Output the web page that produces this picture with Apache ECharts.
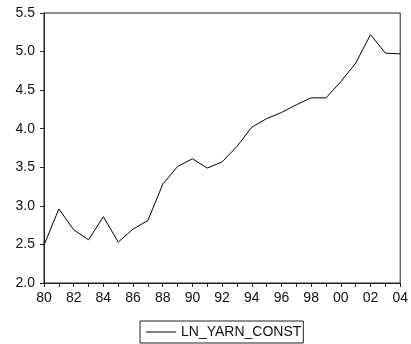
<!DOCTYPE html>
<html>
<head>
<meta charset="utf-8">
<script src="https://cdn.jsdelivr.net/npm/echarts@6/dist/echarts.min.js"></script>
<style>
  html, body { margin: 0; padding: 0; background: #fff; }
  #chart { width: 411px; height: 344px; }
</style>
</head>
<body>
<div id="chart"></div>
<script>
// Years shown on the category axis (two-digit form)
const years = ['80','81','82','83','84','85','86','87','88','89','90','91','92',
               '93','94','95','96','97','98','99','00','01','02','03','04'];
// Log of yarn output, constant prices
const lnYarnConst = [2.49, 2.96, 2.69, 2.56, 2.86, 2.53, 2.70, 2.81, 3.28, 3.51,
                     3.61, 3.49, 3.57, 3.77, 4.02, 4.13, 4.21, 4.31, 4.40, 4.40,
                     4.61, 4.85, 5.22, 4.98, 4.97];
const seriesName = 'LN_YARN_CONST';
const yMin = 2.0, yMax = 5.5, yStep = 0.5;

const font = 'Liberation Sans, Arial, sans-serif';
const ink = '#111';

const chart = echarts.init(document.getElementById('chart'), null, { renderer: 'canvas' });
chart.setOption({
  animation: false,
  backgroundColor: '#fff',
  grid: {
    left: 44, top: 13, right: 8, bottom: 61,
    show: true, borderColor: '#222', borderWidth: 1, backgroundColor: 'transparent'
  },
  legend: {
    left: 140, top: 321,
    data: [{ name: seriesName, icon: 'rect' }],
    itemWidth: 30, itemHeight: 1, itemGap: 4,
    padding: [4, 2, 4, 6],
    borderColor: '#222', borderWidth: 1, borderRadius: 0,
    textStyle: { color: ink, fontSize: 14, fontFamily: font, padding: [0, 0, 0, 0] }
  },
  xAxis: {
    type: 'category',
    data: years,
    boundaryGap: false,
    axisLine: { lineStyle: { color: '#222', width: 1 } },
    axisTick: { show: true, interval: 0, length: 4, lineStyle: { color: '#222' } },
    axisLabel: { interval: 1, color: ink, fontSize: 14, fontFamily: font, margin: 8 },
    splitLine: { show: false }
  },
  yAxis: {
    type: 'value',
    min: yMin, max: yMax, interval: yStep,
    axisLine: { show: true, lineStyle: { color: '#222', width: 1 } },
    axisTick: { show: true, length: 4, lineStyle: { color: '#222' } },
    axisLabel: {
      color: ink, fontSize: 14, fontFamily: font, margin: 9,
      formatter: v => v.toFixed(1)
    },
    splitLine: { show: false }
  },
  series: [{
    name: seriesName,
    type: 'line',
    data: lnYarnConst,
    symbol: 'none',
    lineStyle: { color: '#000', width: 1 },
    itemStyle: { color: '#000' }
  }]
});
</script>
</body>
</html>
